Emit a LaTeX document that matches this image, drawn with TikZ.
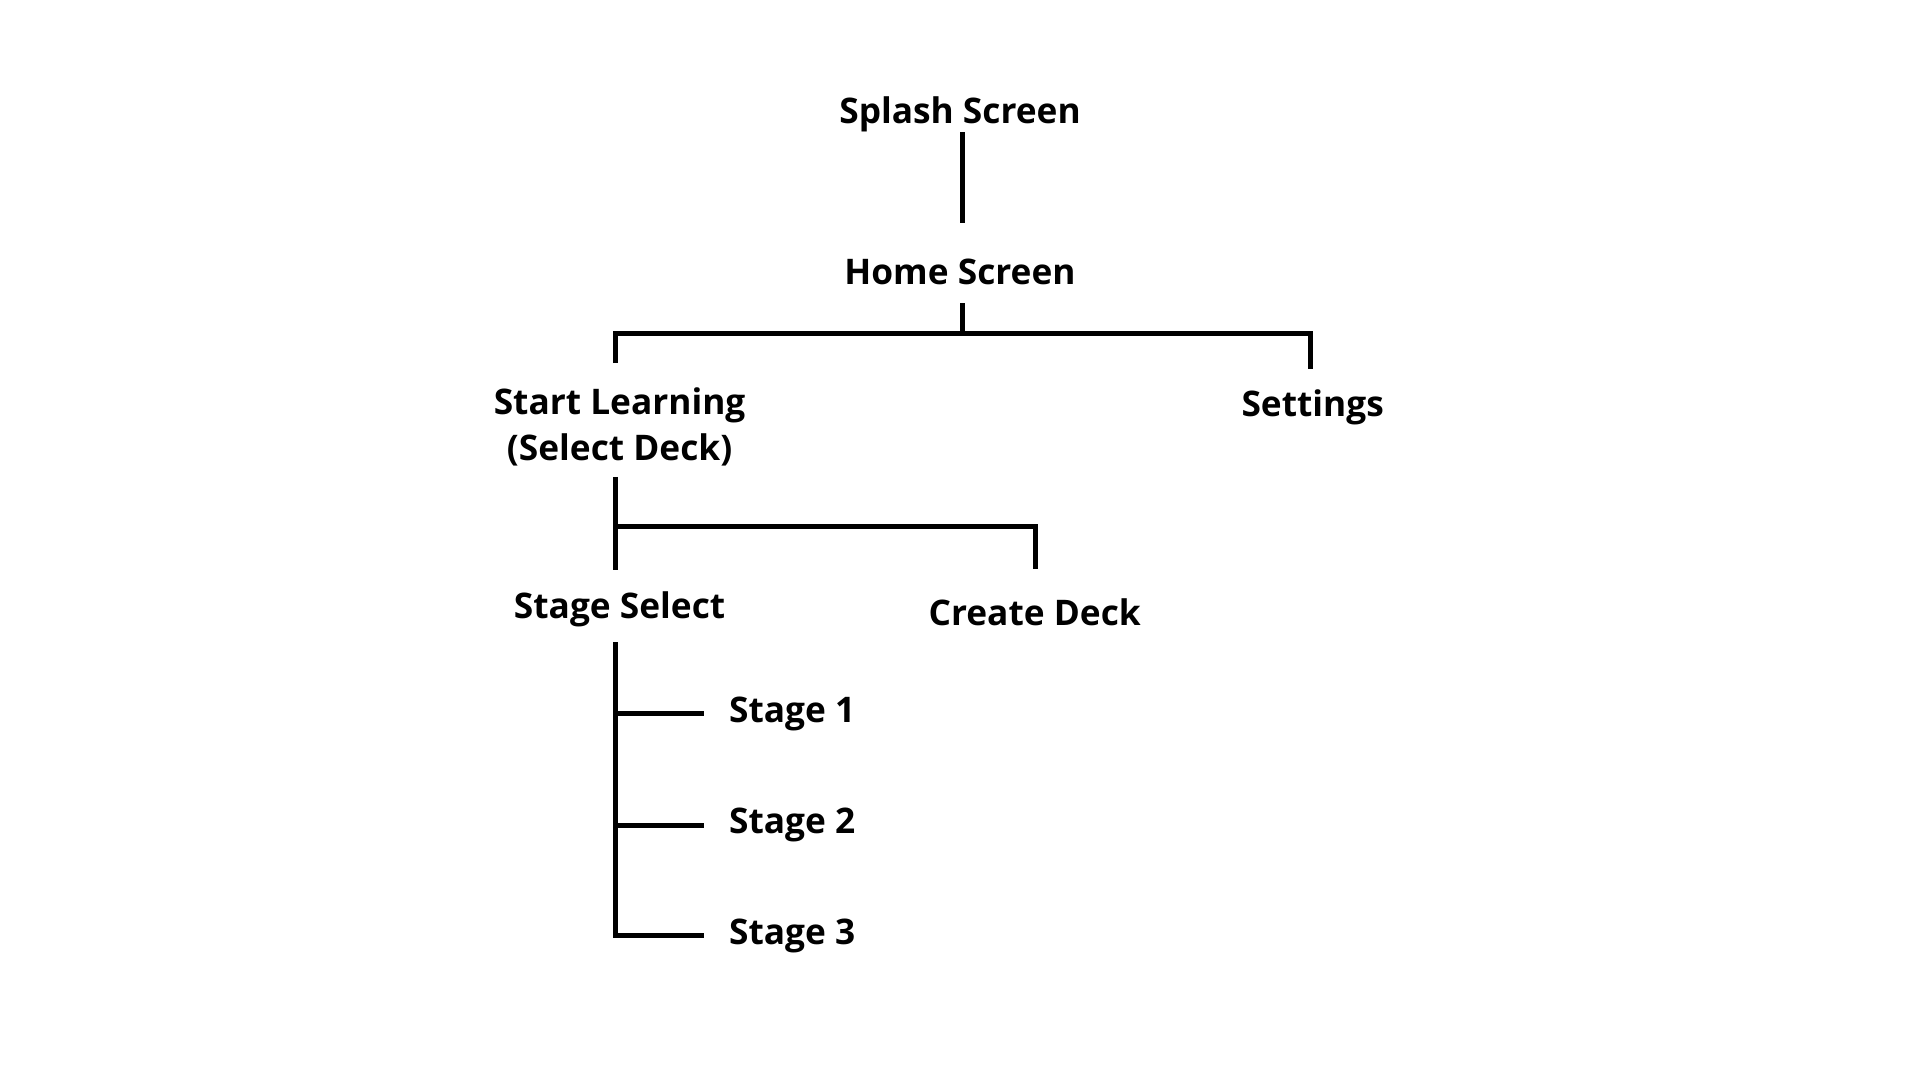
\documentclass[tikz,border=0pt]{standalone}
\usepackage{fontspec}
\setmainfont{Open Sans}
\usepackage{tikz}
\usetikzlibrary{positioning}

\begin{document}
\begin{tikzpicture}[x=0.5pt, y=-0.5pt,
									label/.style = {inner sep=0pt, align=center, font=\bfseries\fontsize{14.4}{18.75}\selectfont},
									link/.style = {-, line width=2pt, draw=black}]
					\useasboundingbox (0,0) rectangle (1568,882);
					\node[label, anchor=base] (splash) at (784, 100.5) {Splash Screen};
					\node[label, anchor=base] (home) at (784, 232) {Home Screen};
					\node[label] (learn) at (506, 349) {Start Learning\\(Select Deck)};
					\node[label, anchor=base] (settings) at (1072, 340.5) {Settings};
					\node[label, anchor=base] (select) at (506, 505) {Stage Select};
					\node[label, anchor=base] (create) at (845, 511) {Create Deck};
					\node[label, anchor=west] (stage1) at (595, 583) {Stage 1};
					\node[label, anchor=west] (stage2) at (595, 674) {Stage 2};
					\node[label, anchor=west] (stage3) at (595, 764) {Stage 3};
					
					\coordinate (hub1) at (786, 272);
					\coordinate (hub2) at (503, 430);
					
					\draw[link, shorten <=0pt, shorten >=14.5pt] (splash.south -| hub1) to (home.north -| hub1);
					\draw[link, shorten <=7.5pt] (home.south -| hub1) to (hub1);
					\draw[link, shorten <=10pt, shorten >=8.5pt] (learn.north -| hub2) |- (hub1) -| (settings.north -| 1070, 0);
					
					\draw[link, shorten <=4pt, shorten >=8.5pt] (learn.south -| hub2) to (select.north -| hub2);
					\draw[link, shorten >=12pt] (hub2) -| (create.north -| 846, 0);
					
					\draw[link, shorten <=6pt, shorten >=10pt] (select.south -| hub2) |- (stage3.west);
					\draw[link, shorten >=10pt] (stage1.west -| hub2) to (stage1.west);
					\draw[link, shorten >=10pt] (stage2.west -| hub2) to (stage2.west);
				\end{tikzpicture}
\end{document}
